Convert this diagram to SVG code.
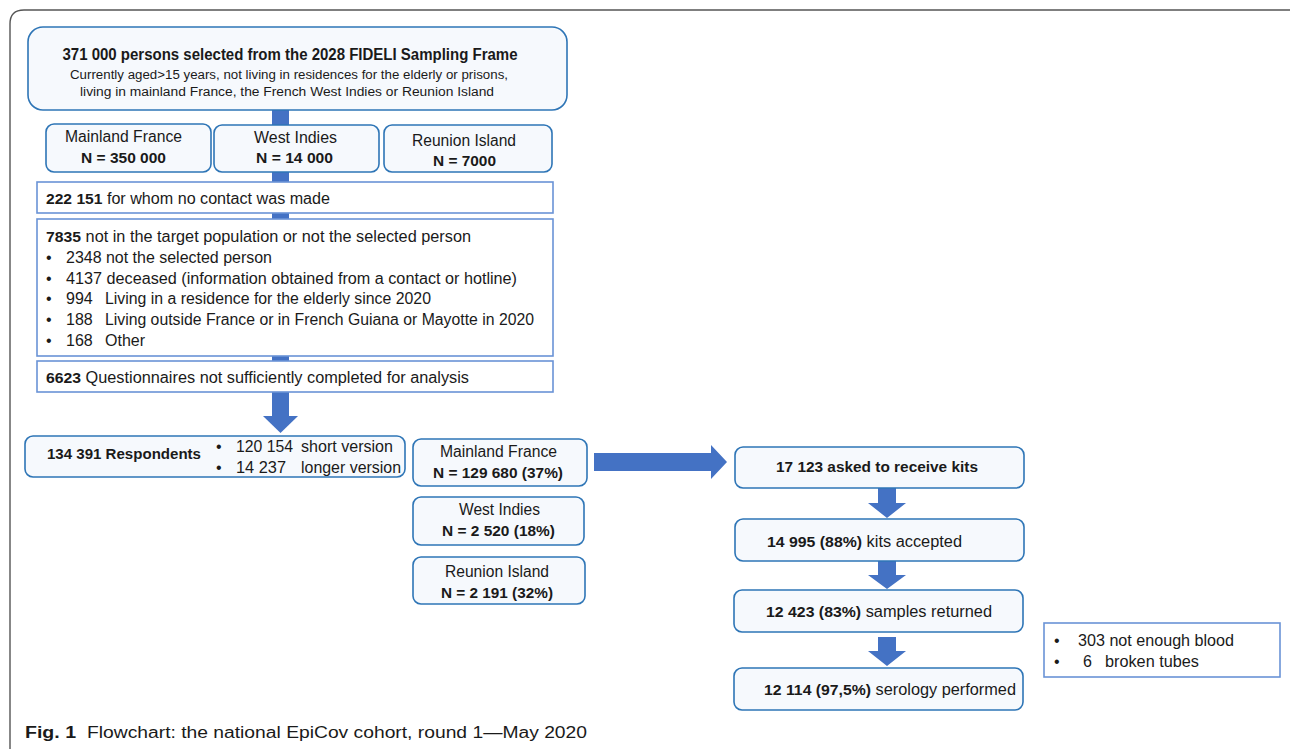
<svg xmlns="http://www.w3.org/2000/svg" width="1290" height="749" viewBox="0 0 1290 749">
<style>
text{font-family:"Liberation Sans",Arial,sans-serif;fill:#1a1a1a;font-size:16px}
.rb{fill:#f6f9fd;stroke:#2e75b6;stroke-width:1.6}
.sb{fill:#ffffff;stroke:#6a93d6;stroke-width:1.6}
.ar{fill:#4472c4}
.b{font-weight:bold;font-size:15.5px}
.t12{font-size:12.5px}
.c{text-anchor:middle}
</style>
<path d="M10,749 L10,24 Q10,10 24,10 L1290,10" fill="none" stroke="#555" stroke-width="1.4"/>
<g id="connectors">
<rect class="ar" x="272" y="108" width="17" height="310"/>
<polygon class="ar" points="263,416 298,416 280.5,433"/>
<polygon class="ar" points="594,453 711,453 711,445 727,462 711,479 711,471 594,471"/>
<polygon class="ar" points="878,488 896,488 896,503 906,503 887,518 868,503 878,503"/>
<polygon class="ar" points="878,561 896,561 896,575 906,575 887,589 868,575 878,575"/>
<polygon class="ar" points="878,637 896,637 896,651 906,651 887,666 868,651 878,651"/>
</g>
<g id="n-top">
<rect class="rb" x="28" y="27" width="539" height="83" rx="15"/>
<text class="b c" x="290" y="60" font-size="16" style="font-size:16px" textLength="455" lengthAdjust="spacingAndGlyphs">371 000 persons selected from the 2028 FIDELI Sampling Frame</text>
<text class="c t12" x="289" y="79" textLength="438" lengthAdjust="spacingAndGlyphs">Currently aged&gt;15 years, not living in residences for the elderly or prisons,</text>
<text class="c t12" x="287" y="96" textLength="414" lengthAdjust="spacingAndGlyphs">living in mainland France, the French West Indies or Reunion Island</text>
</g>
<g id="n-mf1">
<rect class="rb" x="46" y="124" width="165" height="48" rx="8"/>
<text class="c" x="123.5" y="142" textLength="117" lengthAdjust="spacingAndGlyphs">Mainland France</text>
<text class="c b" x="123.5" y="163" textLength="85" lengthAdjust="spacingAndGlyphs">N = 350 000</text>
</g>
<g id="n-wi1">
<rect class="rb" x="214" y="125" width="165" height="47" rx="8"/>
<text class="c" x="295.5" y="143" textLength="83" lengthAdjust="spacingAndGlyphs">West Indies</text>
<text class="c b" x="294.5" y="163" textLength="77" lengthAdjust="spacingAndGlyphs">N = 14 000</text>
</g>
<g id="n-ri1">
<rect class="rb" x="384" y="125" width="168" height="47" rx="8"/>
<text class="c" x="464" y="146" textLength="104" lengthAdjust="spacingAndGlyphs">Reunion Island</text>
<text class="c b" x="464.5" y="166" textLength="63" lengthAdjust="spacingAndGlyphs">N = 7000</text>
</g>
<g id="n-nocontact">
<rect class="sb" x="37" y="182" width="516" height="31"/>
<text x="46" y="204" textLength="284" lengthAdjust="spacingAndGlyphs"><tspan class="b">222 151</tspan> for whom no contact was made</text>
</g>
<g id="n-7835">
<rect class="sb" x="37" y="219" width="516" height="137"/>
<text x="46" y="242" textLength="425" lengthAdjust="spacingAndGlyphs"><tspan class="b">7835</tspan> not in the target population or not the selected person</text>
<text x="46" y="263">•</text><text x="66" y="263" textLength="206" lengthAdjust="spacingAndGlyphs">2348 not the selected person</text>
<text x="46" y="284">•</text><text x="66" y="284" textLength="451" lengthAdjust="spacingAndGlyphs">4137 deceased (information obtained from a contact or hotline)</text>
<text x="46" y="304">•</text><text x="66" y="304">994</text><text x="105" y="304" textLength="326" lengthAdjust="spacingAndGlyphs">Living in a residence for the elderly since 2020</text>
<text x="46" y="325">•</text><text x="66" y="325">188</text><text x="105" y="325" textLength="429" lengthAdjust="spacingAndGlyphs">Living outside France or in French Guiana or Mayotte in 2020</text>
<text x="46" y="346">•</text><text x="66" y="346">168</text><text x="105" y="346">Other</text>
</g>
<g id="n-6623">
<rect class="sb" x="37" y="361" width="516" height="31"/>
<text x="46" y="383" textLength="423" lengthAdjust="spacingAndGlyphs"><tspan class="b">6623</tspan>  Questionnaires not sufficiently completed for analysis</text>
</g>
<g id="n-resp">
<rect class="rb" x="25" y="436" width="380" height="41" rx="8"/>
<text class="b" x="47" y="459" textLength="154" lengthAdjust="spacingAndGlyphs">134 391 Respondents</text>
<text x="216" y="452">•</text><text x="236" y="452" textLength="57" lengthAdjust="spacingAndGlyphs">120 154</text><text x="301" y="452" textLength="92" lengthAdjust="spacingAndGlyphs">short version</text>
<text x="216" y="473">•</text><text x="236" y="473" textLength="50" lengthAdjust="spacingAndGlyphs">14 237</text><text x="301" y="473" textLength="100" lengthAdjust="spacingAndGlyphs">longer version</text>
</g>
<g id="n-mf2">
<rect class="rb" x="413" y="439" width="174" height="47" rx="8"/>
<text class="c" x="498.5" y="457" textLength="117" lengthAdjust="spacingAndGlyphs">Mainland France</text>
<text class="c b" x="498" y="478" textLength="130" lengthAdjust="spacingAndGlyphs">N = 129 680 (37%)</text>
</g>
<g id="n-wi2">
<rect class="rb" x="413" y="497" width="171" height="48" rx="8"/>
<text class="c" x="499.5" y="515" textLength="81" lengthAdjust="spacingAndGlyphs">West Indies</text>
<text class="c b" x="498.5" y="536" textLength="113" lengthAdjust="spacingAndGlyphs">N = 2 520 (18%)</text>
</g>
<g id="n-ri2">
<rect class="rb" x="413" y="557" width="172" height="47" rx="8"/>
<text class="c" x="497" y="577" textLength="104" lengthAdjust="spacingAndGlyphs">Reunion Island</text>
<text class="c b" x="497" y="598" textLength="112" lengthAdjust="spacingAndGlyphs">N = 2 191 (32%)</text>
</g>
<g id="n-kits">
<rect class="rb" x="735" y="447" width="289" height="41" rx="8"/>
<text class="c b" x="877" y="472" textLength="202" lengthAdjust="spacingAndGlyphs">17 123  asked to receive kits</text>
</g>
<g id="n-accepted">
<rect class="rb" x="735" y="519" width="289" height="42" rx="8"/>
<text x="767" y="547" textLength="195" lengthAdjust="spacingAndGlyphs"><tspan class="b">14 995  (88%)</tspan> kits accepted</text>
</g>
<g id="n-returned">
<rect class="rb" x="734" y="590" width="289" height="42" rx="8"/>
<text x="766" y="617" textLength="226" lengthAdjust="spacingAndGlyphs"><tspan class="b">12 423 (83%)</tspan>  samples returned</text>
</g>
<g id="n-serology">
<rect class="rb" x="734" y="668" width="289" height="42" rx="8"/>
<text x="764" y="695" textLength="252" lengthAdjust="spacingAndGlyphs"><tspan class="b">12 114 (97,5%)</tspan>  serology performed</text>
</g>
<g id="n-excluded">
<rect class="sb" x="1044" y="623" width="236" height="54"/>
<text x="1054" y="646">•</text><text x="1078" y="646" textLength="156" lengthAdjust="spacingAndGlyphs">303 not enough blood</text>
<text x="1054" y="667">•</text><text x="1083" y="667">6</text><text x="1105" y="667" textLength="94" lengthAdjust="spacingAndGlyphs">broken tubes</text>
</g>
<g id="caption">
<text x="25" y="738" font-size="18" font-weight="bold" textLength="51" lengthAdjust="spacingAndGlyphs">Fig. 1</text>
<text x="87" y="738" font-size="17" textLength="500" lengthAdjust="spacingAndGlyphs">Flowchart: the national EpiCov cohort, round 1—May 2020</text>
</g>
</svg>
